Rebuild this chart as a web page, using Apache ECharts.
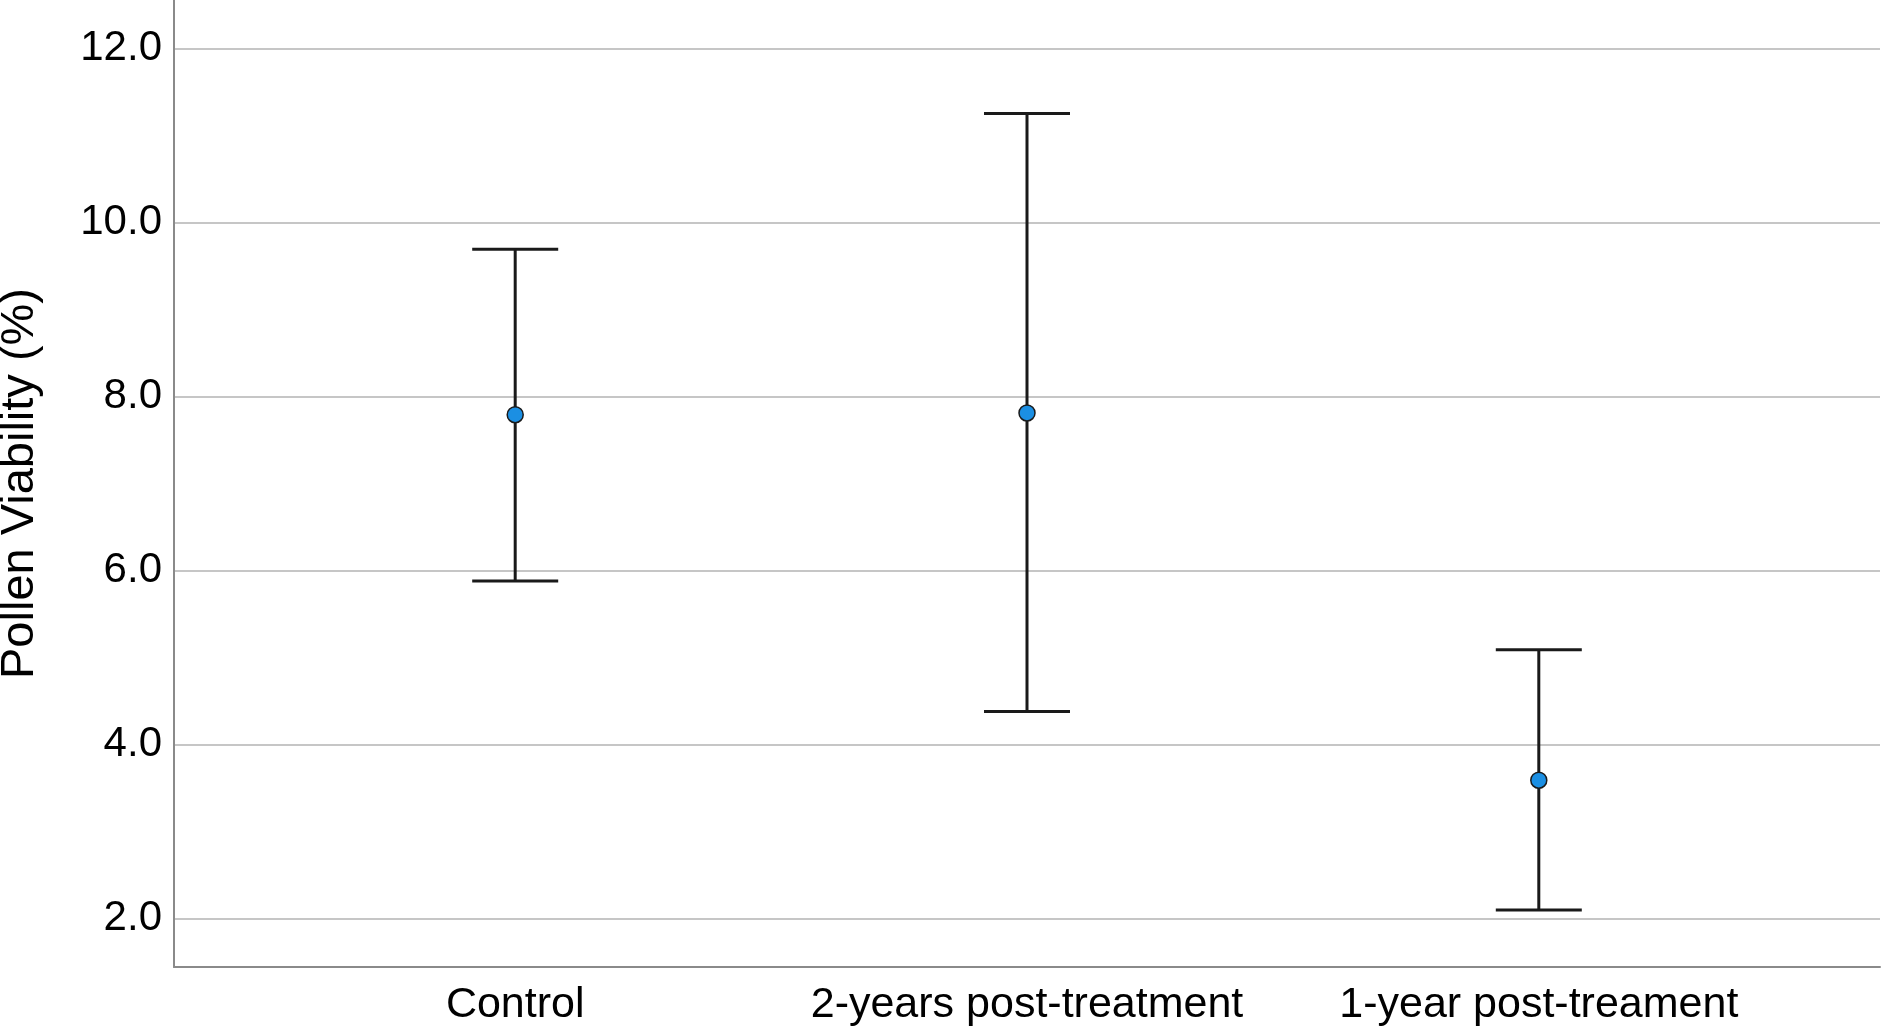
<!DOCTYPE html>
<html>
<head>
<meta charset="utf-8">
<script src="https://cdn.jsdelivr.net/npm/echarts@6/dist/echarts.min.js"></script>
<style>
html,body{margin:0;padding:0;background:#fff;overflow:hidden;}
#chart{width:1882px;height:1031px;}
</style>
</head>
<body>
<div id="chart"></div>
<script>
const categories = ['Control', '2-years post-treatment', '1-year post-treament'];
const meanValues = [7.79, 7.81, 3.59];
const lowerValues = [5.88, 4.38, 2.10];
const upperValues = [9.69, 11.25, 5.09];
const yTickValues = [2, 4, 6, 8, 10, 12];
const xTickValues = [1, 2, 3];

const chart = echarts.init(document.getElementById('chart'), null, {renderer: 'canvas'});

const errData = categories.map((c, i) => [i + 1, lowerValues[i], upperValues[i]]);
const meanData = categories.map((c, i) => [i + 1, meanValues[i]]);

const font = 'Liberation Sans, Arial, sans-serif';

chart.setOption({
  animation: false,
  backgroundColor: '#ffffff',
  grid: {left: 174, right: 2, top: 0, bottom: 64, containLabel: false, outerBoundsMode: 'none'},
  xAxis: {
    type: 'value',
    min: 1/3,
    max: 11/3,
    axisLine: {show: true, onZero: false, lineStyle: {color: '#8a8a8a', width: 2}},
    axisTick: {show: false, customValues: xTickValues},
    splitLine: {show: false},
    axisLabel: {
      customValues: xTickValues,
      formatter: v => categories[Math.round(v) - 1] || '',
      color: '#000', fontSize: 43, fontFamily: font, margin: 17
    }
  },
  yAxis: {
    type: 'value',
    min: 1.444,
    max: 12.555,
    name: 'Pollen Viability (%)',
    nameLocation: 'middle',
    nameGap: 130,
    nameTextStyle: {color: '#000', fontSize: 47, fontFamily: font},
    axisLine: {show: true, onZero: false, lineStyle: {color: '#8a8a8a', width: 2}},
    axisTick: {show: false, customValues: yTickValues},
    splitLine: {show: true, lineStyle: {color: '#c6c6c6', width: 2}},
    axisLabel: {
      customValues: yTickValues,
      formatter: v => v.toFixed(1),
      color: '#000', fontSize: 42, fontFamily: font, margin: 12,
      padding: [8, 0, 0, 0]
    }
  },
  series: [
    {
      type: 'custom',
      data: errData,
      encode: {x: 0, y: [1, 2]},
      renderItem: function (params, api) {
        const x = api.value(0);
        const lo = api.coord([x, api.value(1)]);
        const hi = api.coord([x, api.value(2)]);
        const hw = 43;
        const style = {stroke: '#1a1a1a', lineWidth: 3};
        return {
          type: 'group',
          children: [
            {type: 'line', shape: {x1: hi[0], y1: hi[1], x2: lo[0], y2: lo[1]}, style: style},
            {type: 'line', shape: {x1: hi[0] - hw, y1: hi[1], x2: hi[0] + hw, y2: hi[1]}, style: style},
            {type: 'line', shape: {x1: lo[0] - hw, y1: lo[1], x2: lo[0] + hw, y2: lo[1]}, style: style}
          ]
        };
      },
      z: 2
    },
    {
      type: 'scatter',
      data: meanData,
      symbol: 'circle',
      symbolSize: 16,
      itemStyle: {color: '#1b8fe3', borderColor: '#1a1a1a', borderWidth: 1.5, opacity: 1},
      z: 3
    }
  ]
});
</script>
</body>
</html>
